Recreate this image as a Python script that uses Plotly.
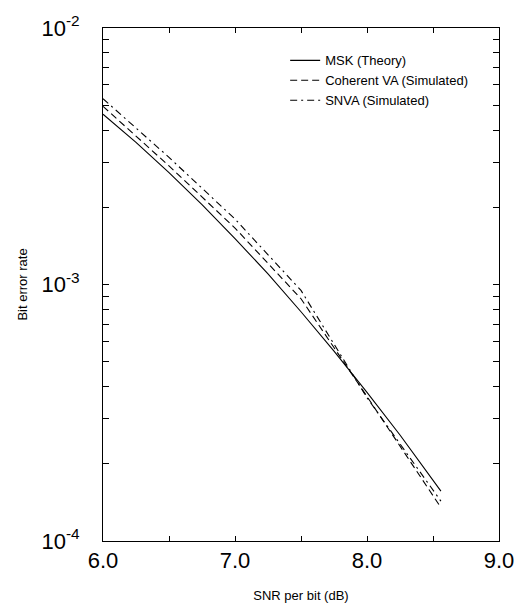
import plotly.graph_objects as go

# Data
snr_theory = [6.0, 6.25, 6.5, 6.75, 7.0, 7.25, 7.5, 7.75, 8.0, 8.25, 8.56]
ber_theory = [4.61e-3, 3.58e-3, 2.73e-3, 2.05e-3, 1.51e-3, 1.10e-3, 7.83e-4, 5.50e-4, 3.80e-4, 2.59e-4, 1.565e-4]

snr_sim = [6.0, 6.5, 7.0, 7.5, 8.0, 8.56]
ber_coherent = [4.95e-3, 2.90e-3, 1.66e-3, 8.80e-4, 3.66e-4, 1.35e-4]
ber_snva = [5.30e-3, 3.13e-3, 1.80e-3, 9.48e-4, 3.62e-4, 1.43e-4]

x_range = [6.0, 9.0]
x_tickvals = [6.0, 6.5, 7.0, 7.5, 8.0, 8.5, 9.0]
x_ticktext = ["6.0", "", "7.0", "", "8.0", "", "9.0"]

y_major = {1e-4: "10<sup>-4</sup>", 1e-3: "10<sup>-3</sup>", 1e-2: "10<sup>-2</sup>"}
y_minor = [m * 10.0 ** e for e in (-4, -3) for m in range(2, 10)]
y_tickvals = sorted(list(y_major.keys()) + y_minor)
y_ticktext = [y_major.get(v, "") for v in y_tickvals]

FONT = "Liberation Sans, Arial, sans-serif"

fig = go.Figure()
fig.add_trace(go.Scatter(x=snr_theory, y=ber_theory, mode="lines", name="MSK (Theory)",
                         line=dict(color="black", width=1.1)))
fig.add_trace(go.Scatter(x=snr_sim, y=ber_coherent, mode="lines", name="Coherent VA (Simulated)",
                         line=dict(color="black", width=1.1, dash="7px,4px")))
fig.add_trace(go.Scatter(x=snr_sim, y=ber_snva, mode="lines", name="SNVA (Simulated)",
                         line=dict(color="black", width=1.1, dash="7px,4px,2px,4px")))

fig.update_layout(
    width=526, height=613,
    margin=dict(l=103, r=25, t=20, b=69),
    paper_bgcolor="white", plot_bgcolor="white",
    font=dict(family=FONT, color="black"),
    showlegend=True,
    legend=dict(x=0.46, y=0.966, xanchor="left", yanchor="top",
                bgcolor="rgba(0,0,0,0)", borderwidth=0,
                font=dict(size=13, family=FONT), tracegroupgap=0, itemwidth=30),
    xaxis=dict(
        range=x_range, tickmode="array", tickvals=x_tickvals, ticktext=x_ticktext,
        ticks="inside", ticklen=5, tickwidth=1, tickcolor="black",
        showline=True, linecolor="black", linewidth=1, mirror="allticks",
        showgrid=False, zeroline=False,
        tickfont=dict(size=22, family=FONT),
        title=dict(text="SNR per bit (dB)", font=dict(size=13, family=FONT), standoff=18),
    ),
    yaxis=dict(
        type="log", range=[-4, -2], tickmode="array", tickvals=y_tickvals, ticktext=y_ticktext,
        ticks="inside", ticklen=6, tickwidth=1, tickcolor="black",
        showline=True, linecolor="black", linewidth=1, mirror="allticks",
        showgrid=False, zeroline=False,
        tickfont=dict(size=22, family=FONT), ticklabelstandoff=18,
        title=dict(text="Bit error rate", font=dict(size=13, family=FONT), standoff=10),
    ),
)

fig.write_html("out.html")
